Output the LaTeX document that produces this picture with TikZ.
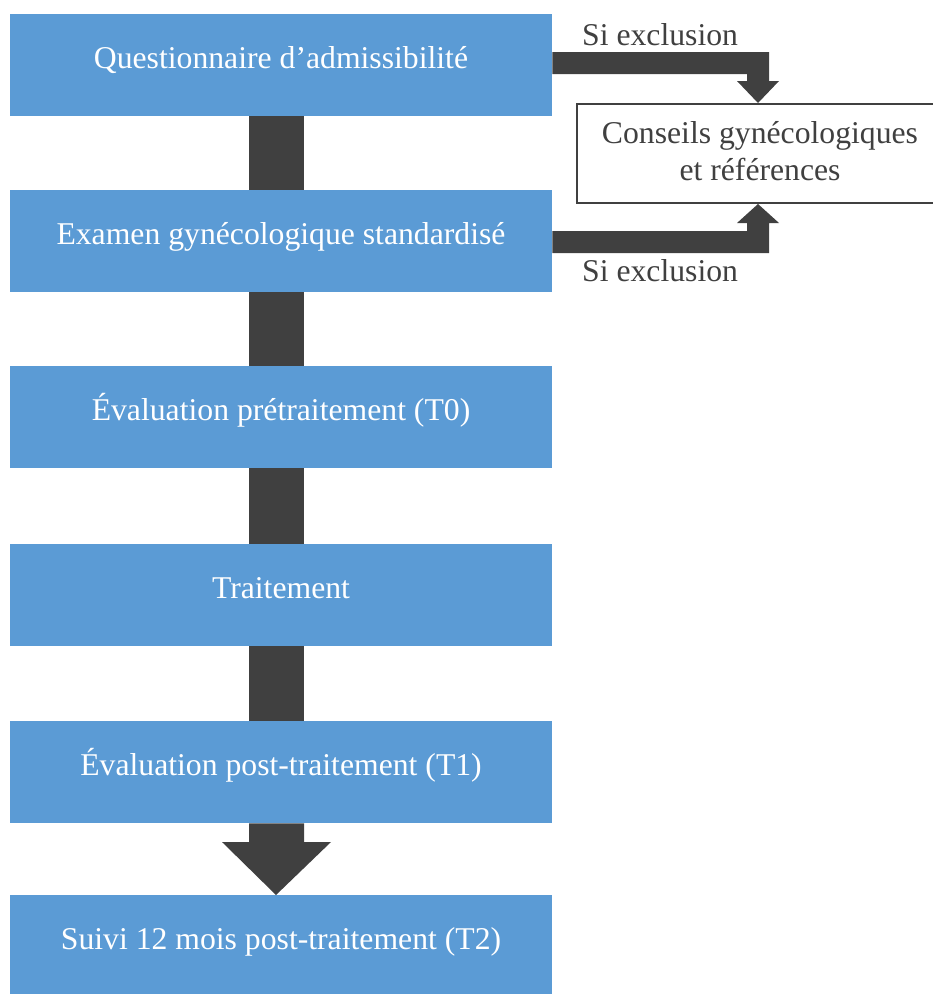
\documentclass[tikz,border=0pt]{standalone}
\usepackage{fontspec}
\setmainfont{Liberation Serif}
\usetikzlibrary{calc}
\definecolor{boxblue}{HTML}{5B9BD5}
\definecolor{darkarrow}{HTML}{404040}
\tikzset{
  bluebox/.style={fill=boxblue, draw=none, minimum width=542pt, minimum height=102pt, anchor=north west, inner sep=0pt},
  boxtext/.style={text=white, font=\fontsize{31.7}{38}\selectfont, anchor=base, inner sep=0pt},
  plaintext/.style={text=darkarrow, font=\fontsize{31.7}{38}\selectfont, anchor=base, inner sep=0pt},
  connector/.style={fill=darkarrow, draw=none}
}
\begin{document}
\begin{tikzpicture}[x=1pt,y=-1pt]
\useasboundingbox (0,0) rectangle (933,994);
% boxes
\node[bluebox] (b1) at (10,14) {};
\node[bluebox] (b2) at (10,190) {};
\node[bluebox] (b3) at (10,366) {};
\node[bluebox] (b4) at (10,544) {};
\node[bluebox] (b5) at (10,721) {};
\node[bluebox] (b6) at (10,895) {};
\node[draw=darkarrow, line width=2pt, fill=white, minimum width=368pt, minimum height=99pt, anchor=north west, inner sep=0pt] (r) at (576,103) {};
% texts
\node[boxtext] (t1) at (281,68) {Questionnaire d’admissibilité};
\node[boxtext] (t2) at (281,244) {Examen gynécologique standardisé};
\node[boxtext] (t3) at (281,420) {Évaluation prétraitement (T0)};
\node[boxtext] (t4) at (281,598) {Traitement};
\node[boxtext] (t5) at (281,775) {Évaluation post-traitement (T1)};
\node[boxtext] (t6) at (281,949) {Suivi 12 mois post-traitement (T2)};
\node[plaintext] (r1) at (760,143) {Conseils gynécologiques};
\node[plaintext] (r2) at (760,180) {et références};
\node[plaintext, anchor=base west] (s1) at (582,45) {Si exclusion};
\node[plaintext, anchor=base west] (s2) at (582,281) {Si exclusion};
% vertical connectors
\fill[connector] (b1.south -| 249,0) rectangle (b2.north -| 304,0);
\fill[connector] (b2.south -| 249,0) rectangle (b3.north -| 304,0);
\fill[connector] (b3.south -| 249,0) rectangle (b4.north -| 304,0);
\fill[connector] (b4.south -| 249,0) rectangle (b5.north -| 304,0);
% big arrow to last box
\fill[connector] (b5.south -| 249,0) -- (b5.south -| 304,0) -- (304,842) -- (331,842) -- (b6.north -| 276,0) -- (222,842) -- (249,842) -- cycle;
% elbow arrows
\fill[connector] (b1.east |- 0,52) -- (769,52) -- (769,81) -- (779,81) -- (r.north -| 758,0) -- (737,81) -- (747,81) -- (747,74) -- (b1.east |- 0,74) -- cycle;
\fill[connector] (b2.east |- 0,231) -- (747,231) -- (747,223) -- (737,223) -- (r.south -| 758,0) -- (779,223) -- (769,223) -- (769,253) -- (b2.east |- 0,253) -- cycle;
\end{tikzpicture}
\end{document}
